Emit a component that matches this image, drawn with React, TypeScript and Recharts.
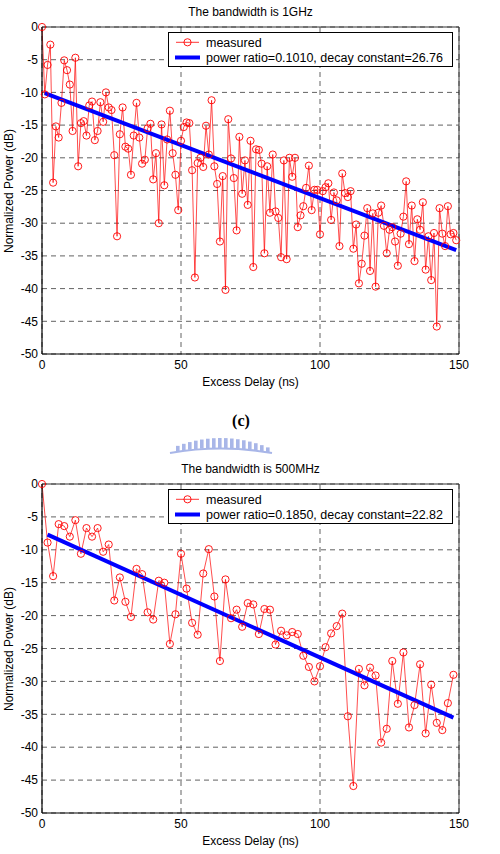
import React from "react";
import {
    LineChart,
    Line,
    XAxis,
    YAxis,
    CartesianGrid,
    ReferenceLine,
    Legend
} from "recharts";

const delayTicks = [0, 50, 100, 150];
const powerTicks = [0, -5, -10, -15, -20, -25, -30, -35, -40, -45, -50];

// 1 GHz sounding: one tap every 1 ns
const step1G = 1;
const power1G = [
    0, -10.3, -5.8, -2.7, -23.8, -15.2, -16.9, -11.6, -5.1, -6.6,
    -8.8, -15.9, -4.7, -21.3, -14.7, -14.4, -16.6, -12.0, -11.4, -17.3,
    -15.9, -11.5, -14.5, -10.0, -12.3, -12.7, -19.6, -32.0, -16.4, -12.3,
    -18.3, -18.6, -22.6, -16.6, -11.6, -16.9, -20.9, -20.3, -15.5, -14.8,
    -23.3, -19.3, -30.0, -14.9, -24.2, -17.2, -12.8, -19.3, -22.6, -28.0,
    -17.4, -15.3, -14.6, -14.7, -21.9, -38.3, -20.8, -20.0, -21.4, -15.1,
    -19.5, -11.2, -21.3, -24.0, -32.8, -22.8, -40.2, -14.1, -20.1, -23.1,
    -31.1, -16.8, -25.5, -20.4, -27.2, -17.4, -36.7, -18.7, -18.8, -20.9,
    -34.6, -21.3, -28.4, -19.5, -28.2, -29.2, -35.2, -20.4, -35.5, -20.0,
    -22.9, -20.0, -30.6, -28.8, -27.4, -24.6, -21.2, -28.0, -24.9, -24.9,
    -31.7, -25.1, -24.5, -23.9, -29.5, -25.3, -26.5, -33.5, -22.4, -25.4,
    -26.0, -25.1, -33.9, -30.2, -39.2, -36.2, -31.9, -27.7, -37.3, -28.5,
    -39.7, -28.4, -27.3, -30.4, -34.6, -31.0, -30.6, -32.8, -36.5, -31.6,
    -29.0, -23.6, -33.2, -27.3, -35.8, -29.4, -31.0, -26.8, -37.1, -32.0,
    -38.7, -31.5, -45.8, -27.7, -31.6, -33.5, -27.4, -31.7, -31.5, -32.6,
];
const fitDelay1G = [1, 149];
const fitPower1G = [-10.1, -34.1];

// 500 MHz sounding: one tap every 2 ns
const step500M = 2;
const power500M = [
    0, -8.9, -14.0, -6.1, -6.4, -8.0, -5.5, -10.6, -6.7, -8.0,
    -6.7, -10.3, -9.2, -17.7, -14.2, -17.9, -20.2, -12.9, -13.7, -19.5,
    -20.6, -14.7, -15.0, -24.3, -19.8, -10.6, -15.9, -21.1, -22.9, -13.6,
    -9.9, -17.1, -26.9, -14.5, -20.4, -19.1, -21.7, -18.1, -18.3, -22.8,
    -19.0, -19.1, -24.4, -22.3, -23.0, -22.5, -22.8, -26.1, -27.8, -30.0,
    -27.7, -24.8, -22.7, -21.6, -19.7, -35.3, -45.9, -28.1, -30.6, -27.9,
    -29.1, -39.3, -37.2, -26.9, -33.4, -25.6, -37.0, -33.6, -27.4, -37.9,
    -30.5, -36.3, -37.4, -33.3, -29.0,
];
const fitDelay500M = [2, 148];
const fitPower500M = [-7.7, -35.5];

const FONT = '"Liberation Sans", Arial, sans-serif';

const LegendBox = ({ fitLabel }: { fitLabel: string }) => (
    <svg width={285} height={35} style={{ display: "block" }}>
        <rect x={0.5} y={0.5} width={284} height={34} fill="#fff" stroke="#000" />
        <line x1={8} x2={31} y1={10.3} y2={10.3} stroke="#ff0000" strokeWidth={0.8} />
        <circle cx={19.5} cy={10.3} r={3.6} fill="none" stroke="#ff0000" strokeWidth={0.9} />
        <text x={38} y={14.6} fontSize={12.5} fontFamily={FONT} fill="#000">measured</text>
        <line x1={7} x2={32} y1={25.5} y2={25.5} stroke="#0000ff" strokeWidth={4} />
        <text x={38} y={29.8} fontSize={12.5} fontFamily={FONT} fill="#000">{fitLabel}</text>
    </svg>
);

type ProfileProps = {
    top: number;
    height: number;
    marginTop: number;
    plotHeight: number;
    power: number[];
    step: number;
    fitDelay: number[];
    fitPower: number[];
    title: string;
    fitLabel: string;
};

function DelayProfile({ top, height, marginTop, plotHeight, power, step, fitDelay, fitPower, title, fitLabel }: ProfileProps) {
    const measured = power.map((p, i) => ({ t: i * step, p }));
    const fit = fitDelay.map((t, i) => ({ t, p: fitPower[i] }));
    const xAxisHeight = height - marginTop - plotHeight;
    const plotTop = top + marginTop;
    const plotBottom = plotTop + plotHeight;

    return (
        <>
            <div style={{ position: "absolute", left: 42, width: 417, top: plotTop - 22, textAlign: "center", fontSize: 12, lineHeight: "14px", fontFamily: FONT }}>
                {title}
            </div>
            <div style={{ position: "absolute", left: 42, width: 417, top: plotBottom + 21, textAlign: "center", fontSize: 12, lineHeight: "14px", fontFamily: FONT }}>
                Excess Delay (ns)
            </div>
            <div style={{ position: "absolute", left: 9 - 100, width: 200, top: plotTop + plotHeight / 2 - 7, textAlign: "center", fontSize: 12, lineHeight: "14px", fontFamily: FONT, transform: "rotate(-90deg)" }}>
                Normalized Power (dB)
            </div>
            <div style={{ position: "absolute", left: 0, top }}>
                <LineChart width={500} height={height} margin={{ top: marginTop, right: 41, bottom: 0, left: 0 }}>
                    <CartesianGrid strokeDasharray="5 4" stroke="#3a3a3a" strokeWidth={0.8} />
                    <XAxis
                        dataKey="t"
                        type="number"
                        domain={[0, 150]}
                        ticks={delayTicks}
                        interval={0}
                        height={xAxisHeight}
                        tickLine={false}
                        tickSize={4}
                        tickMargin={2}
                        axisLine={{ stroke: "#000", strokeWidth: 1.2 }}
                        tick={{ fill: "#000", fontSize: 12, fontFamily: FONT }}
                    />
                    <YAxis
                        type="number"
                        domain={[-50, 0]}
                        ticks={powerTicks}
                        interval={0}
                        width={42}
                        tickLine={false}
                        tickSize={2}
                        tickMargin={2}
                        axisLine={{ stroke: "#000", strokeWidth: 1.2 }}
                        tick={{ fill: "#000", fontSize: 12, fontFamily: FONT }}
                    />
                    <ReferenceLine y={0} stroke="#333" strokeWidth={1} />
                    <ReferenceLine x={150} stroke="#333" strokeWidth={1} />
                    <Line
                        data={measured}
                        dataKey="p"
                        type="linear"
                        stroke="#ff0000"
                        strokeWidth={0.7}
                        dot={{ r: 3.6, stroke: "#ff0000", strokeWidth: 0.9, fill: "none" }}
                        activeDot={false}
                        isAnimationActive={false}
                    />
                    <Line
                        data={fit}
                        dataKey="p"
                        type="linear"
                        stroke="#0000ff"
                        strokeWidth={4}
                        dot={false}
                        activeDot={false}
                        isAnimationActive={false}
                    />
                    <Legend
                        layout="vertical"
                        align="center"
                        verticalAlign="middle"
                        wrapperStyle={{ left: 168, top: marginTop + 5, width: 285, height: 35 }}
                        content={() => <LegendBox fitLabel={fitLabel} />}
                    />
                </LineChart>
            </div>
        </>
    );
}

// faint arched seal between the two panels
const Seal = () => {
    const bars = [];
    for (let i = 0; i < 16; i++) {
        const x = 176 + i * 6;
        const u = (x + 2 - 221) / 46;
        const yTop = 438 + 9 * u * u;
        const yBot = 448 + 4 * u * u;
        bars.push(<rect key={i} x={x} y={yTop} width={3.6} height={yBot - yTop} fill="#9aaae4" />);
    }
    return (
        <svg width={500} height={854} style={{ position: "absolute", left: 0, top: 0, pointerEvents: "none" }}>
            <g opacity={0.85}>
                {bars}
                <path d="M170,453 Q221,444 272,453" fill="none" stroke="#9aaae4" strokeWidth={2} />
            </g>
        </svg>
    );
};

export default function App() {
    return (
        <div style={{ position: "absolute", left: 0, top: 0, width: 500, height: 854, background: "#fff", overflow: "hidden" }}>
            <DelayProfile
                top={0}
                height={400}
                marginTop={27}
                plotHeight={327}
                power={power1G}
                step={step1G}
                fitDelay={fitDelay1G}
                fitPower={fitPower1G}
                title="The bandwidth is 1GHz"
                fitLabel="power ratio=0.1010, decay constant=26.76"
            />
            <div style={{ position: "absolute", left: 0, width: 500, top: 411, textAlign: "center", fontSize: 16, lineHeight: "20px", fontWeight: "bold", fontFamily: '"Liberation Serif", "Times New Roman", serif' }}>
                <span style={{ position: "relative", left: -9 }}>(c)</span>
            </div>
            <Seal />
            <DelayProfile
                top={455}
                height={399}
                marginTop={29}
                plotHeight={329}
                power={power500M}
                step={step500M}
                fitDelay={fitDelay500M}
                fitPower={fitPower500M}
                title="The bandwidth is 500MHz"
                fitLabel="power ratio=0.1850, decay constant=22.82"
            />
        </div>
    );
}
